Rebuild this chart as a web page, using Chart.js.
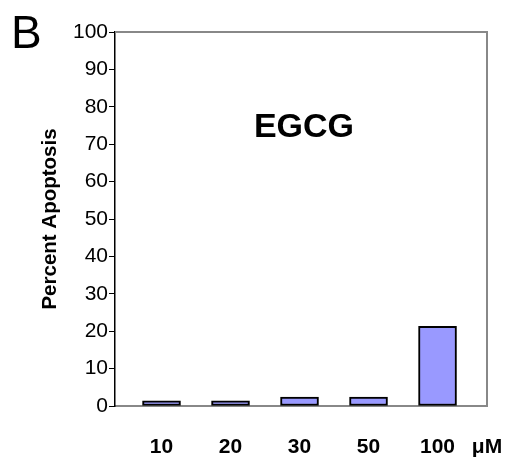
<!DOCTYPE html>
<html>
<head>
<meta charset="utf-8">
<script src="https://cdn.jsdelivr.net/npm/chart.js@4"></script>
<style>
  body { margin: 0; background: #fff; }
</style>
</head>
<body>
<canvas id="chart" width="512" height="459"></canvas>
<script>
// doses along the bottom, then the unit label at the far right
const doses = ["10", "20", "30", "50", "100"];
const unitLabel = "\u03bcM";
// percent apoptosis
const apoptosis = [1.4, 1.4, 2.4, 2.4, 21.3];
const yTicks = [0, 10, 20, 30, 40, 50, 60, 70, 80, 90, 100];

const xMin = 0.326;
const xMax = 5.717;

// top and right frame lines plus the panel letter and the EGCG label
const extras = {
  id: "extras",
  afterDraw(c) {
    const ctx = c.ctx;
    const a = c.chartArea;
    ctx.save();
    ctx.strokeStyle = "#888";
    ctx.lineWidth = 2;
    ctx.beginPath();
    ctx.moveTo(a.left, a.top);
    ctx.lineTo(a.right, a.top);
    ctx.lineTo(a.right, a.bottom);
    ctx.stroke();

    ctx.fillStyle = "#000";
    ctx.font = "46px 'Liberation Sans', Arial, sans-serif";
    ctx.textAlign = "left";
    ctx.textBaseline = "alphabetic";
    ctx.fillText("B", 11, 48);

    ctx.font = "bold 34px 'Liberation Sans', Arial, sans-serif";
    ctx.textAlign = "center";
    ctx.textBaseline = "middle";
    ctx.fillText("EGCG", 304, 128);
    ctx.restore();
  }
};

let chart = new Chart(document.querySelector("#chart"), {
  type: "bar",
  data: {
    datasets: [{
      data: apoptosis.map((v, i) => ({ x: i + 1, y: v })),
      backgroundColor: "#9999ff",
      borderColor: "#000",
      borderWidth: 2,
      borderSkipped: false,
      barThickness: 38
    }]
  },
  options: {
    responsive: false,
    animation: false,
    layout: { padding: { left: 0, top: 32, right: 25, bottom: 0 } },
    plugins: {
      legend: { display: false },
      tooltip: { enabled: false }
    },
    scales: {
      x: {
        type: "linear",
        offset: false,
        min: xMin,
        max: xMax,
        grid: { display: false, offset: false },
        border: { color: "#888", width: 2 },
        afterBuildTicks: (s) => {
          s.ticks = doses.map((d, i) => ({ value: i + 1 })).concat({ value: xMax });
        },
        afterFit: (s) => {
          s.height = 53;
          s.paddingLeft = 0;
          s.paddingRight = 0;
        },
        ticks: {
          autoSkip: false,
          maxRotation: 0,
          padding: 21,
          color: "#000",
          font: { family: "'Liberation Sans', Arial, sans-serif", size: 21, weight: "bold" },
          callback: (value, index) => doses.concat(unitLabel)[index]
        }
      },
      y: {
        min: 0,
        max: 100,
        grid: {
          drawOnChartArea: false,
          drawTicks: true,
          tickLength: 6,
          tickColor: "#000",
          color: "#000"
        },
        border: { color: "#000", width: 1.5 },
        afterBuildTicks: (s) => {
          s.ticks = yTicks.map((v) => ({ value: v }));
        },
        afterFit: (s) => { s.width = 115; },
        ticks: {
          padding: 1,
          color: "#000",
          font: { family: "'Liberation Sans', Arial, sans-serif", size: 21 }
        },
        title: {
          display: true,
          text: "Percent Apoptosis",
          color: "#000",
          padding: { top: 38, bottom: 0 },
          font: { family: "'Liberation Sans', Arial, sans-serif", size: 20.5, weight: "bold" }
        }
      }
    }
  },
  plugins: [extras]
});
</script>
</body>
</html>
